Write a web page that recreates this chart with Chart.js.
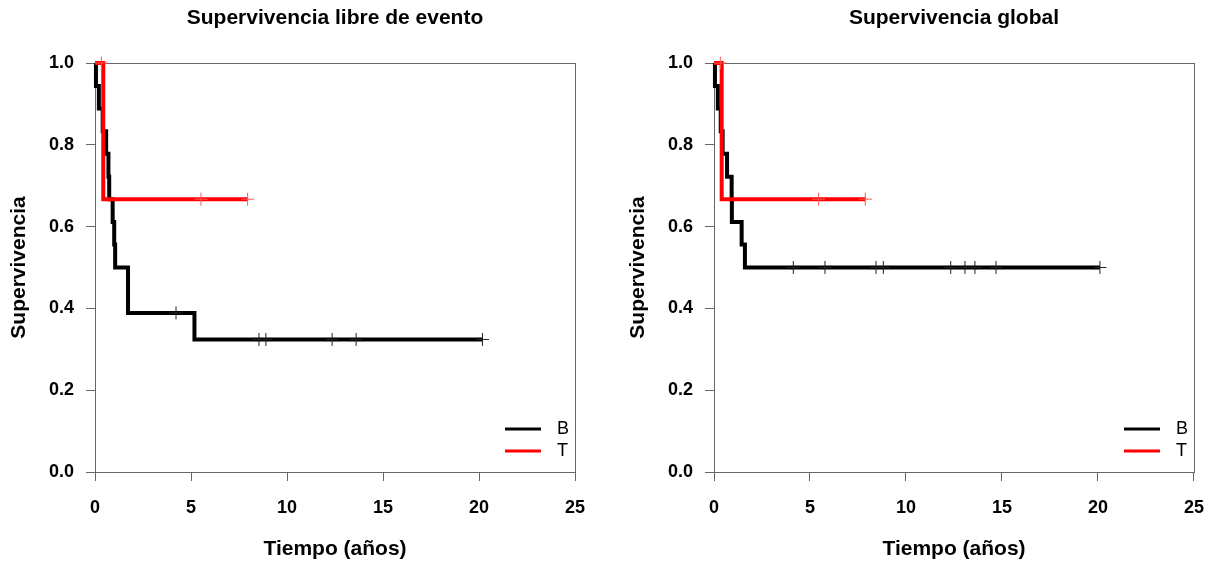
<!DOCTYPE html>
<html lang="es">
<head>
<meta charset="UTF-8" />
<title>Supervivencia por grupo</title>
<script src="https://cdn.jsdelivr.net/npm/chart.js"></script>
<style>
  body { margin: 0; background: #fff; overflow: hidden; }
  .wrap { position: relative; width: 1213px; height: 568px; overflow: hidden; }
  .panel { position: absolute; top: 0; }
  #efsPanel { left: 0; }
  #osPanel { left: 600px; }
</style>
</head>
<body>
<div class="wrap">
  <div class="panel" id="efsPanel"><canvas id="efsChart" width="606" height="568"></canvas></div>
  <div class="panel" id="osPanel"><canvas id="osChart" width="620" height="568"></canvas></div>
</div>
<script>
  const groupNames = ['B', 'T'];
  const groupColors = ['#000000', '#ff0000'];
  const censorColors = ['#222222', '#ff5555'];

  // Supervivencia libre de evento (tiempo en años)
  const efsTimeB = [0, 0.05, 0.2, 0.4, 0.58, 0.7, 0.74, 0.92, 1.0, 1.05, 1.72, 5.18, 20.18];
  const efsSurvB = [1, 0.944, 0.889, 0.833, 0.778, 0.722, 0.667, 0.611, 0.556, 0.5, 0.389, 0.324, 0.324];
  const efsCensB = [4.22, 8.54, 8.9, 12.35, 13.6, 20.18];
  const efsTimeT = [0, 0.43, 7.95];
  const efsSurvT = [1, 0.667, 0.667];
  const efsCensT = [0.33, 5.52, 7.95];

  // Supervivencia global
  const osTimeB = [0, 0.05, 0.2, 0.35, 0.45, 0.68, 0.92, 0.93, 1.44, 1.61, 20.1];
  const osSurvB = [1, 0.944, 0.889, 0.833, 0.778, 0.722, 0.667, 0.611, 0.556, 0.5, 0.5];
  const osCensB = [4.13, 5.78, 8.44, 8.82, 12.33, 13.07, 13.59, 14.69, 20.1];
  const osTimeT = [0, 0.4, 7.88];
  const osSurvT = [1, 0.667, 0.667];
  const osCensT = [0.33, 5.45, 7.88];

  const xTicks = [0, 5, 10, 15, 20, 25];
  const yTicks = [0, 0.2, 0.4, 0.6, 0.8, 1.0];

  const FONT = "'Liberation Sans', Arial, sans-serif";

  // value of the step curve at time t (for placing censor marks on it)
  function survAt(times, surv, t) {
    let s = surv[0];
    for (let i = 0; i < times.length; i++) {
      if (times[i] <= t) s = surv[i];
    }
    return s;
  }

  const framePlugin = {
    id: 'frame',
    beforeDatasetsDraw(chart) {
      const { ctx, chartArea: a } = chart;
      ctx.save();
      ctx.strokeStyle = '#666';
      ctx.lineWidth = 1;
      ctx.strokeRect(Math.round(a.left) + 0.5, Math.round(a.top) + 0.5,
        Math.round(a.right - a.left), Math.round(a.bottom - a.top));
      ctx.restore();
    },
    afterDraw(chart, args, opts) {
      const { ctx, chartArea: a } = chart;
      ctx.save();
      // title
      ctx.fillStyle = '#000';
      ctx.font = 'bold 21px ' + FONT;
      ctx.textAlign = 'center';
      ctx.textBaseline = 'middle';
      ctx.fillText(opts.text, (a.left + a.right) / 2, 18);
      // legend, bottom right inside the box
      ctx.font = '18px ' + FONT;
      ctx.textAlign = 'left';
      groupNames.forEach((name, i) => {
        const y = a.bottom - 43 + i * 22;
        ctx.strokeStyle = groupColors[i];
        ctx.lineWidth = 3;
        ctx.beginPath();
        ctx.moveTo(a.right - 70, y);
        ctx.lineTo(a.right - 34, y);
        ctx.stroke();
        ctx.fillText(name, a.right - 18, y);
      });
      ctx.restore();
    }
  };

  function makeChart(id, title, curves, padLeft, padRight) {
    const datasets = [];
    curves.forEach(([times, surv, cens], g) => {
      datasets.push({
        label: groupNames[g],
        data: times.map((t, i) => ({ x: t, y: surv[i] })),
        borderColor: groupColors[g],
        borderWidth: 4,
        stepped: 'before',
        pointRadius: 0,
        fill: false,
        clip: false,
        borderJoinStyle: 'miter',
        order: g === 1 ? 1 : 2
      });
      datasets.push({
        label: groupNames[g] + ' (censura)',
        data: cens.map(t => ({ x: t, y: survAt(times, surv, t) })),
        showLine: false,
        pointStyle: 'cross',
        pointRadius: 6.5,
        pointBorderWidth: 1,
        pointBorderColor: censorColors[g],
        borderColor: censorColors[g],
        clip: false,
        order: 0
      });
    });

    const tickFont = { family: FONT, size: 18, weight: 'bold' };
    const titleFont = { family: FONT, size: 21, weight: 'bold' };

    return new Chart(document.getElementById(id), {
      type: 'line',
      data: { datasets },
      options: {
        responsive: false,
        animation: false,
        events: [],
        layout: { padding: { left: padLeft, right: padRight, top: 63, bottom: 0 } },
        plugins: {
          legend: { display: false },
          tooltip: { enabled: false },
          frame: { text: title }
        },
        scales: {
          x: {
            type: 'linear',
            min: 0,
            max: 25,
            afterBuildTicks: s => { s.ticks = xTicks.map(v => ({ value: v })); },
            afterFit: s => { s.height = 96; },
            border: { display: false },
            grid: { drawOnChartArea: false, drawTicks: true, tickLength: 9, color: '#666' },
            ticks: { color: '#000', font: tickFont, padding: 16, maxRotation: 0 },
            title: { display: true, text: 'Tiempo (años)', color: '#000', font: titleFont, padding: { top: 0, bottom: 6 } }
          },
          y: {
            type: 'linear',
            min: 0,
            max: 1,
            afterBuildTicks: s => { s.ticks = yTicks.map(v => ({ value: v })); },
            afterFit: s => { s.width = 95; },
            border: { display: false },
            grid: { drawOnChartArea: false, drawTicks: true, tickLength: 9, color: '#666' },
            ticks: { color: '#000', font: tickFont, padding: 12, callback: v => v.toFixed(1) },
            title: { display: true, text: 'Supervivencia', color: '#000', font: titleFont, padding: { top: 7, bottom: 0 } }
          }
        }
      },
      plugins: [framePlugin]
    });
  }

  makeChart('efsChart', 'Supervivencia libre de evento',
    [[efsTimeB, efsSurvB, efsCensB], [efsTimeT, efsSurvT, efsCensT]], 0, 31);
  makeChart('osChart', 'Supervivencia global',
    [[osTimeB, osSurvB, osCensB], [osTimeT, osSurvT, osCensT]], 19, 26);
</script>
</body>
</html>
